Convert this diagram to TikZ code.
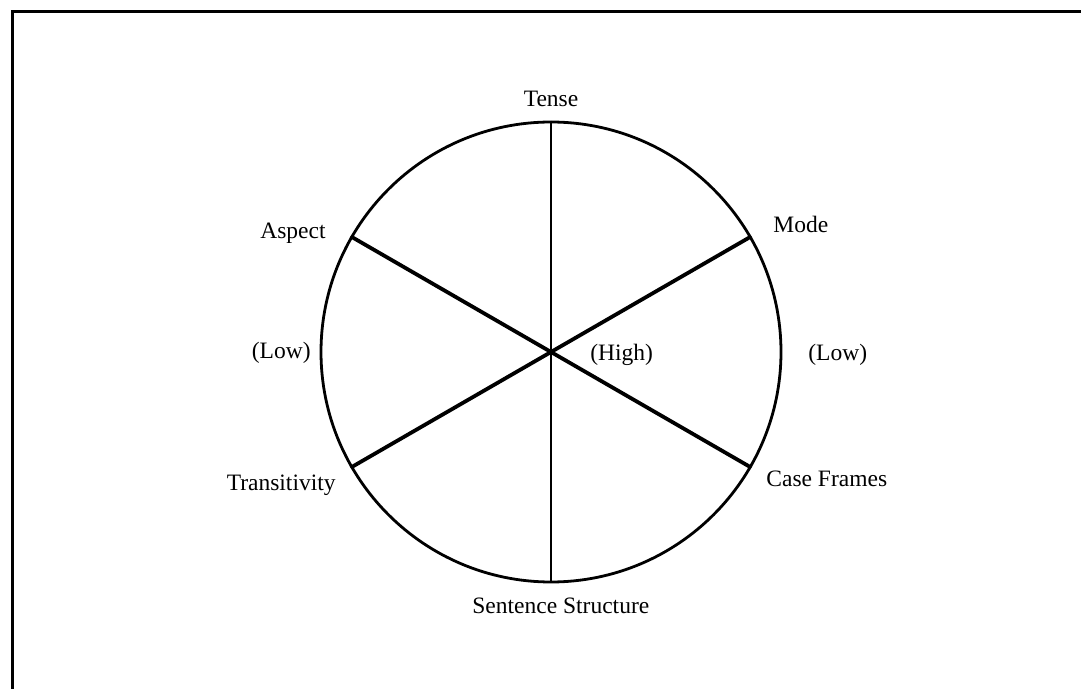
\documentclass[tikz,border=0pt]{standalone}
\usepackage{fontspec}
\setmainfont{Liberation Serif}
\begin{document}
\begin{tikzpicture}[x=0.5pt,y=-0.5pt,
  lbl/.style={inner sep=0pt,font=\fontsize{11.75pt}{14pt}\selectfont},
  rim/.style={line width=1.4pt},
  spoke/.style={line width=1.9pt},
  vspoke/.style={line width=1.3pt},
  frame/.style={line width=1.5pt}]
\useasboundingbox (0,0) rectangle (1081,689);
\coordinate (fbl) at (12,689);
\coordinate (ftl) at (12,12);
\coordinate (ftr) at (1081,12);
\draw[frame] (fbl) -- (ftl) -- (ftr);
\coordinate (c) at (551,352);
\node[circle,draw,rim,minimum size=460pt*0.5,inner sep=0pt] (wheel) at (c) {};
\draw[vspoke] (wheel.90) -- (wheel.270);
\draw[spoke] (wheel.150) -- (wheel.330);
\draw[spoke] (wheel.30) -- (wheel.210);
\node[lbl,anchor=base] (tense) at (551,107) {Tense};
\node[lbl,anchor=base west] (mode) at (773,233) {Mode};
\node[lbl,anchor=base east] (aspect) at (326,239) {Aspect};
\node[lbl,anchor=base east] (lowl) at (311,359) {(Low)};
\node[lbl,anchor=base west] (high) at (590,361) {(High)};
\node[lbl,anchor=base west] (lowr) at (808,361) {(Low)};
\node[lbl,anchor=base east] (trans) at (336,490) {Transitivity};
\node[lbl,anchor=base west] (case) at (766,486) {Case Frames};
\node[lbl,anchor=base west] (sent) at (472,613) {Sentence Structure};
\end{tikzpicture}
\end{document}
